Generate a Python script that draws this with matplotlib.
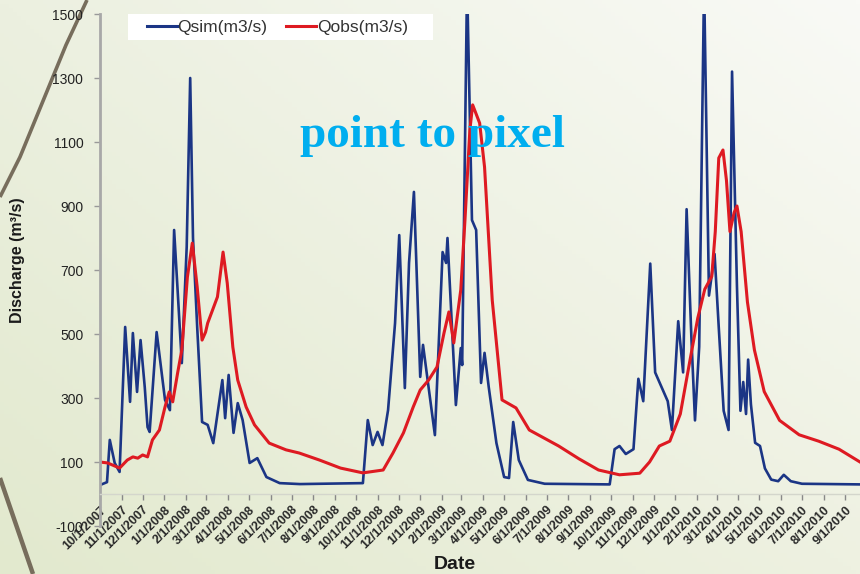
import numpy as np
import pandas as pd
import matplotlib
matplotlib.use('Agg')
import matplotlib.pyplot as plt
from matplotlib.patches import Rectangle
from matplotlib.lines import Line2D

# simulated discharge
sim_dates = ['2007-10-01', '2007-10-11', '2007-10-15', '2007-10-22', '2007-10-29', '2007-11-06',
             '2007-11-13', '2007-11-17', '2007-11-23', '2007-11-28', '2007-12-04', '2007-12-08',
             '2007-12-11', '2007-12-21', '2008-01-02', '2008-01-09', '2008-01-15', '2008-01-20',
             '2008-01-26', '2008-02-02', '2008-02-07', '2008-02-11', '2008-02-17', '2008-02-24',
             '2008-03-03', '2008-03-11', '2008-03-24', '2008-03-28', '2008-04-02', '2008-04-09',
             '2008-04-15', '2008-04-22', '2008-05-02', '2008-05-13', '2008-05-26', '2008-06-14',
             '2008-07-13', '2008-10-11', '2008-10-18', '2008-10-25', '2008-11-01', '2008-11-08',
             '2008-11-16', '2008-11-26', '2008-12-02', '2008-12-10', '2008-12-16', '2008-12-23',
             '2009-01-01', '2009-01-05', '2009-01-11', '2009-01-22', '2009-02-02', '2009-02-07',
             '2009-02-09', '2009-02-21', '2009-02-28', '2009-03-02', '2009-03-09', '2009-03-16',
             '2009-03-22', '2009-03-29', '2009-04-03', '2009-04-09', '2009-04-20', '2009-05-01',
             '2009-05-08', '2009-05-14', '2009-05-22', '2009-06-04', '2009-06-28', '2009-09-29',
             '2009-10-06', '2009-10-13', '2009-10-22', '2009-11-02', '2009-11-09', '2009-11-16',
             '2009-11-26', '2009-12-03', '2009-12-13', '2009-12-21', '2009-12-27', '2010-01-05',
             '2010-01-12', '2010-01-17', '2010-01-24', '2010-01-29', '2010-02-04', '2010-02-11',
             '2010-02-18', '2010-02-26', '2010-03-04', '2010-03-11', '2010-03-18', '2010-03-23',
             '2010-03-30', '2010-04-04', '2010-04-08', '2010-04-12', '2010-04-15', '2010-04-19',
             '2010-04-25', '2010-05-02', '2010-05-09', '2010-05-18', '2010-05-28', '2010-06-05',
             '2010-06-15', '2010-07-01', '2010-09-22']
sim_values = [28, 37, 169, 97, 69, 522,
              288, 503, 319, 481, 334, 209,
              194, 506, 294, 262, 825, 637,
              409, 772, 1300, 800, 522, 225,
              216, 159, 356, 237, 372, 191,
              284, 231, 97, 112, 53, 34,
              31, 34, 231, 153, 194, 153,
              262, 534, 809, 331, 722, 944,
              366, 466, 366, 184, 756, 722,
              800, 278, 456, 403, 1600, 856,
              825, 347, 441, 334, 159, 53,
              50, 225, 106, 44, 32, 30,
              140, 150, 125, 140, 360, 290,
              720, 380, 330, 290, 200, 540,
              380, 890, 480, 230, 460, 1600,
              620, 750, 520, 260, 200, 1320,
              650, 260, 350, 250, 420, 280,
              160, 150, 80, 45, 40, 60,
              40, 32, 30]

obs_dates = ['2007-10-01', '2007-10-12', '2007-10-29', '2007-11-09', '2007-11-17', '2007-11-24',
             '2007-12-01', '2007-12-08', '2007-12-15', '2007-12-25', '2008-01-02', '2008-01-08',
             '2008-01-13', '2008-01-20', '2008-01-26', '2008-02-03', '2008-02-10', '2008-02-17',
             '2008-02-24', '2008-02-29', '2008-03-03', '2008-03-10', '2008-03-17', '2008-03-25',
             '2008-03-31', '2008-04-08', '2008-04-15', '2008-04-27', '2008-05-09', '2008-05-30',
             '2008-06-23', '2008-07-12', '2008-08-10', '2008-09-09', '2008-10-11', '2008-11-09',
             '2008-11-23', '2008-12-08', '2008-12-22', '2009-01-01', '2009-01-13', '2009-01-25',
             '2009-02-04', '2009-02-11', '2009-02-18', '2009-02-28', '2009-03-06', '2009-03-13',
             '2009-03-17', '2009-03-27', '2009-04-03', '2009-04-14', '2009-04-28', '2009-05-18',
             '2009-06-06', '2009-07-18', '2009-08-16', '2009-09-13', '2009-10-13', '2009-11-11',
             '2009-11-25', '2009-12-09', '2009-12-24', '2010-01-08', '2010-01-22', '2010-02-02',
             '2010-02-12', '2010-02-22', '2010-02-27', '2010-03-04', '2010-03-10', '2010-03-15',
             '2010-03-20', '2010-03-26', '2010-03-30', '2010-04-05', '2010-04-14', '2010-04-24',
             '2010-05-08', '2010-05-30', '2010-06-27', '2010-07-25', '2010-08-23', '2010-09-22']
obs_values = [100, 97, 81, 106, 116, 112,
              122, 116, 169, 200, 272, 319,
              288, 378, 450, 678, 784, 647,
              481, 506, 534, 575, 616, 756,
              659, 459, 356, 272, 216, 159,
              138, 128, 106, 81, 66, 75,
              128, 191, 272, 325, 356, 397,
              503, 569, 472, 638, 856, 1138,
              1216, 1159, 1022, 606, 294, 269,
              200, 150, 110, 75, 60, 65,
              100, 150, 165, 250, 420, 550,
              640, 680, 820, 1050, 1075, 980,
              820, 880, 900, 820, 600, 450,
              320, 230, 185, 165, 140, 100]

y_ticks = [-100, 100, 300, 500, 700, 900, 1100, 1300, 1500]
x_start, x_end = '2007-10-01', '2010-09-22'
tick_months = pd.date_range('2007-10-01', '2010-09-01', freq='MS')
legend_labels = ['Qsim(m3/s)', 'Qobs(m3/s)']

W, H = 860, 574
plt.rcParams['font.family'] = ['Liberation Sans', 'DejaVu Sans']
plt.rcParams['axes.unicode_minus'] = False

fig = plt.figure(figsize=(W / 100, H / 100), dpi=100)

# slide background, light at top right, greener at bottom left
bg = fig.add_axes([0, 0, 1, 1], zorder=-10)
gx, gy = np.meshgrid(np.linspace(0, 1, 200), np.linspace(0, 1, 140))
tl = np.array([236, 240, 224]) / 255
tr = np.array([249, 250, 246]) / 255
bl = np.array([226, 233, 206]) / 255
br = np.array([238, 241, 225]) / 255
grad = ((1 - gx) * (1 - gy))[..., None] * tl + (gx * (1 - gy))[..., None] * tr \
    + ((1 - gx) * gy)[..., None] * bl + (gx * gy)[..., None] * br
bg.imshow(grad, extent=[0, W, H, 0], aspect='auto')
bg.plot([87, 66, 43, 20, 0], [0, 45, 101, 157, 197], color='#776d5c', lw=2.6, solid_capstyle='butt')
bg.plot([0, 33], [478, 574], color='#776d5c', lw=3.2, solid_capstyle='butt')
bg.set_xlim(0, W)
bg.set_ylim(H, 0)
bg.axis('off')

ax = fig.add_axes([100 / W, 48 / H, 760 / W, 512 / H])
ax.patch.set_alpha(0)

# spine position first: moving it resets the ticks
for s in ['top', 'right']:
    ax.spines[s].set_visible(False)
ax.spines['left'].set_color('#a8a8a8')
ax.spines['left'].set_linewidth(2)
ax.spines['bottom'].set_position(('data', 0))
ax.spines['bottom'].set_color('#d4d6cc')
ax.spines['bottom'].set_linewidth(1)

sim_x = pd.to_datetime(sim_dates)
obs_x = pd.to_datetime(obs_dates)
ax.plot(sim_x, sim_values, color='#1b3585', lw=1.9, solid_joinstyle='round')
ax.plot(obs_x, obs_values, color='#de1a22', lw=2.2, solid_joinstyle='round')

ax.set_xlim(pd.Timestamp(x_start), pd.Timestamp(x_end))
ax.set_ylim(-100, 1500)
ax.set_yticks(y_ticks)

ax.tick_params(axis='x', direction='out', length=4, width=1, color='#888888',
               labelsize=9, labelcolor='#2a2a2a', pad=3)
ax.tick_params(axis='y', direction='out', length=4, width=1, color='#999999',
               labelsize=10, labelcolor='#222222', pad=8)
month_labels = ['{}/{}/{}'.format(d.month, d.day, d.year) for d in tick_months]
ax.set_xticks(tick_months)
ax.set_xticklabels(month_labels)
plt.setp(ax.get_xticklabels(), rotation=45, ha='right', va='top',
         rotation_mode='anchor', fontweight='bold')

ax.set_ylabel('Discharge (m³/s)', fontsize=11.5, fontweight='bold', color='#1a1a1a')
ax.yaxis.set_label_coords(-0.099, 0.52)
ax.set_xlabel('Date', fontsize=14, fontweight='bold', color='#1a1a1a')
ax.xaxis.set_label_coords(0.467, -0.076)
ax.xaxis.label.set_va('center')

# legend on a plain white strip
fig.patches.append(Rectangle((128 / W, 1 - 40 / H), 305 / W, 26 / H,
                             transform=fig.transFigure, facecolor='white',
                             edgecolor='none', zorder=5))
handles = [Line2D([], [], color='#1b3585', lw=2.2), Line2D([], [], color='#de1a22', lw=2.2)]
leg = fig.legend(handles, legend_labels, loc='center left', bbox_to_anchor=(147 / W, 1 - 27 / H),
                 ncol=2, frameon=False, fontsize=12.5, handlelength=1.7, handletextpad=0.05,
                 columnspacing=1.1, borderpad=0, borderaxespad=0)
leg.set_zorder(6)
for t in leg.get_texts():
    t.set_color('#333333')

fig.text(432 / W, 1 - 147 / H, 'point to pixel', family=['Liberation Serif', 'DejaVu Serif'],
         fontsize=34, fontweight='bold', color='#00aeef', ha='center', va='baseline', zorder=7)

fig.savefig('out.png', dpi=100)
